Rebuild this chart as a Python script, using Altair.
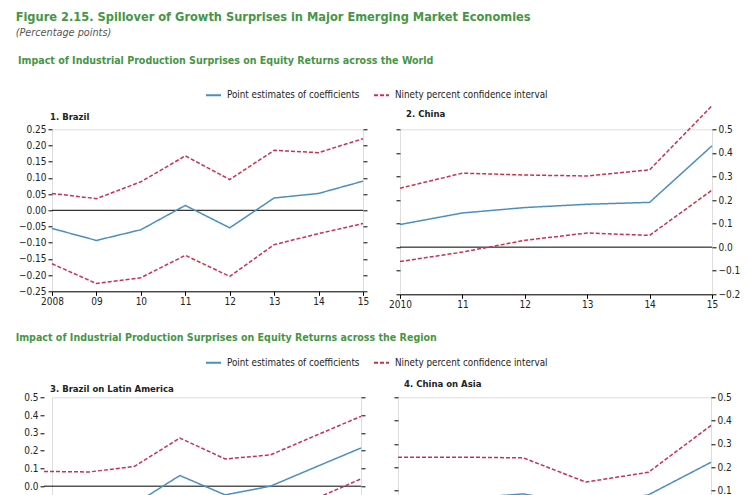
import altair as alt
import pandas as pd

# ---------------- data ----------------
S_POINT = "Point estimates of coefficients"
S_CI = "Ninety percent confidence interval"

brazil_years = ["2008", "09", "10", "11", "12", "13", "14", "15"]
brazil_point = [-0.056, -0.093, -0.060, 0.015, -0.054, 0.038, 0.052, 0.090]
brazil_upper = [0.052, 0.036, 0.088, 0.168, 0.095, 0.185, 0.178, 0.221]
brazil_lower = [-0.165, -0.226, -0.208, -0.139, -0.204, -0.106, -0.072, -0.041]
brazil_yticks = [-0.25, -0.20, -0.15, -0.10, -0.05, 0.0, 0.05, 0.10, 0.15, 0.20, 0.25]

china_years = ["2010", "11", "12", "13", "14", "15"]
china_point = [0.096, 0.145, 0.168, 0.182, 0.190, 0.430]
china_upper = [0.250, 0.314, 0.306, 0.302, 0.328, 0.600]
china_lower = [-0.061, -0.021, 0.029, 0.060, 0.050, 0.242]
china_yticks = [-0.2, -0.1, 0.0, 0.1, 0.2, 0.3, 0.4, 0.5]

latam_years = ["2008", "09", "10", "11", "12", "13", "14", "15"]
latam_point = [-0.20, -0.22, -0.10, 0.060, -0.049, 0.000, 0.108, 0.215]
latam_upper = [0.083, 0.080, 0.112, 0.271, 0.153, 0.176, 0.285, 0.393]
latam_lower = [-0.30, -0.34, -0.33, -0.15, -0.25, -0.18, -0.07, 0.041]
latam_yticks = [-0.4, -0.3, -0.2, -0.1, 0.0, 0.1, 0.2, 0.3, 0.4, 0.5]

asia_years = ["2010", "11", "12", "13", "14", "15"]
asia_point = [0.020, 0.065, 0.085, 0.040, 0.081, 0.221]
asia_upper = [0.243, 0.243, 0.240, 0.136, 0.178, 0.379]
asia_lower = [-0.15, -0.10, -0.07, -0.06, -0.02, 0.06]
asia_yticks = [-0.2, -0.1, 0.0, 0.1, 0.2, 0.3, 0.4, 0.5]

TITLE = "Figure 2.15. Spillover of Growth Surprises in Major Emerging Market Economies"
SUBTITLE = "(Percentage points)"
ROW1 = "Impact of Industrial Production Surprises on Equity Returns across the World"
ROW2 = "Impact of Industrial Production Surprises on Equity Returns across the Region"

# ---------------- style ----------------
FONT = "DejaVu Sans Condensed, Roboto"
BLUE = "#4b8fbf"
RED = "#c8324f"
GREEN = "#469646"
TXT = "#222222"
AX = 10


def long_df(cats, point, upper, lower):
    rows = []
    for c, p, u, l in zip(cats, point, upper, lower):
        rows.append({"year": c, "value": p, "series": S_POINT, "line": "p"})
        rows.append({"year": c, "value": u, "series": S_CI, "line": "u"})
        rows.append({"year": c, "value": l, "series": S_CI, "line": "l"})
    return pd.DataFrame(rows)


COLOR_SCALE = alt.Scale(domain=[S_POINT, S_CI], range=[BLUE, RED])
DASH_SCALE = alt.Scale(domain=[S_POINT, S_CI], range=[[1, 0], [4, 2]])


def legend_chart(legend_x, legend_y):
    leg = alt.Legend(orient="none", legendX=legend_x, legendY=legend_y, direction="horizontal",
                     title=None, symbolType="stroke", symbolSize=225, symbolStrokeWidth=2,
                     symbolOpacity=1, labelFontSize=9.8, labelColor=TXT, labelFont=FONT,
                     columnPadding=10, labelOffset=5, labelLimit=300, padding=0)
    df = long_df(brazil_years, brazil_point, brazil_upper, brazil_lower)
    return alt.Chart(df).transform_filter("datum.value > 99").mark_line(opacity=0).encode(
        x=alt.X("year:N", axis=None),
        y=alt.Y("value:Q", axis=None),
        color=alt.Color("series:N", scale=COLOR_SCALE, legend=leg),
        strokeDash=alt.StrokeDash("series:N", scale=DASH_SCALE, legend=leg),
        detail="line:N",
    ).properties(width=1, height=1,
                 view=alt.ViewBackground(stroke="transparent", fill="transparent"))


def panel(cats, point, upper, lower, ydom, yticks, yfmt, side, w, h, title, tdx, toff,
          lead=0):
    df = long_df(cats, point, upper, lower)
    other = "right" if side == "left" else "left"
    yscale = alt.Scale(domain=ydom, nice=False, zero=False)
    if lead:
        # the first year sits slightly left of the axis line in this panel
        xscale = alt.Scale(type="point", padding=0, domain=cats, range=[-lead, w])
        xaxis = None
    else:
        xscale = alt.Scale(type="point", padding=0, domain=cats)
        xaxis = alt.Axis(title=None, labelAngle=0, domain=True, domainColor="black",
                         tickColor="black", tickSize=4, labelPadding=1, labelFontSize=AX,
                         labelColor=TXT, labelFont=FONT, grid=False)

    lines = alt.Chart(df).mark_line(strokeWidth=1.5).encode(
        x=alt.X("year:N", sort=cats, scale=xscale, axis=xaxis),
        y=alt.Y("value:Q", scale=yscale,
                axis=alt.Axis(orient=side, values=yticks, format=yfmt, title=None, domain=False,
                              grid=False, tickSize=4, tickColor="black", labelPadding=2,
                              labelFontSize=AX, labelColor=TXT, labelFont=FONT,
                              offset=lead)),
        color=alt.Color("series:N", scale=COLOR_SCALE, legend=None),
        strokeDash=alt.StrokeDash("series:N", scale=DASH_SCALE, legend=None),
        detail="line:N",
    )

    zenc = dict(
        y=alt.Y("z:Q", scale=yscale,
                axis=alt.Axis(orient=other, values=yticks, labels=False, title=None, domain=False,
                              grid=False, tickSize=4, tickColor="black"))
    )
    if lead:
        zenc["x"] = alt.XDatum(cats[0], type="nominal", scale=xscale, axis=None)
        zenc["x2"] = alt.X2Datum(cats[-1])
    zero = alt.Chart(pd.DataFrame({"z": [0.0]})).mark_rule(
        color="black", strokeWidth=1).encode(**zenc)

    return alt.layer(zero, lines).resolve_axis(y="independent").properties(
        width=w, height=h,
        title=alt.TitleParams(title, anchor="start", frame="group", dx=tdx, fontSize=9.5,
                              fontWeight="bold", color=TXT, font=FONT, offset=toff),
    )


p1 = panel(brazil_years, brazil_point, brazil_upper, brazil_lower, [-0.25, 0.25], brazil_yticks,
           ".2f", "left", 311, 162, "1. Brazil", -2, 3.25)
p2 = panel(china_years, china_point, china_upper, china_lower, [-0.2, 0.5], china_yticks,
           ".1f", "right", 312, 165, "2. China", 6, -15.3)
p3 = panel(latam_years, latam_point, latam_upper, latam_lower, [-0.4, 0.5], latam_yticks,
           ".1f", "left", 309, 160, "3. Brazil on Latin America", -2, -1, lead=8)
p4 = panel(asia_years, asia_point, asia_upper, asia_lower, [-0.2, 0.5], asia_yticks,
           ".1f", "right", 313, 163, "4. China on Asia", 6, 4)

RES = dict(color="independent", strokeDash="independent")


def row(a, b, text, hspace, toff, vspace, ly):
    panels = alt.hconcat(a, b, spacing=hspace).resolve_scale(**RES).resolve_legend(**RES)
    return alt.vconcat(
        legend_chart(153, ly), panels, spacing=vspace,
        title=alt.TitleParams(text, anchor="start", fontSize=10.6, fontWeight="bold",
                              color=GREEN, font=FONT, offset=toff),
    ).resolve_scale(**RES).resolve_legend(**RES)


chart = alt.vconcat(
    row(p1, p2, ROW1, 18, 18.7, 0, -2), row(p3, p4, ROW2, 20, 9.5, 9.5, 0), spacing=22.5,
    title=alt.TitleParams(TITLE, subtitle=SUBTITLE, anchor="start", fontSize=12.7,
                          fontWeight="bold", color=GREEN, font=FONT, subtitleFont=FONT,
                          subtitleFontSize=10.8, subtitleFontStyle="italic",
                          subtitleColor="#555555", subtitlePadding=3.5, offset=18.5),
).resolve_scale(**RES).resolve_legend(**RES).properties(
    padding={"left": 7, "top": 2.3, "right": 0, "bottom": 0}
).configure_view(stroke=None).configure(font=FONT)

chart.save("out.html", embed_options={"renderer": "svg", "actions": False})
